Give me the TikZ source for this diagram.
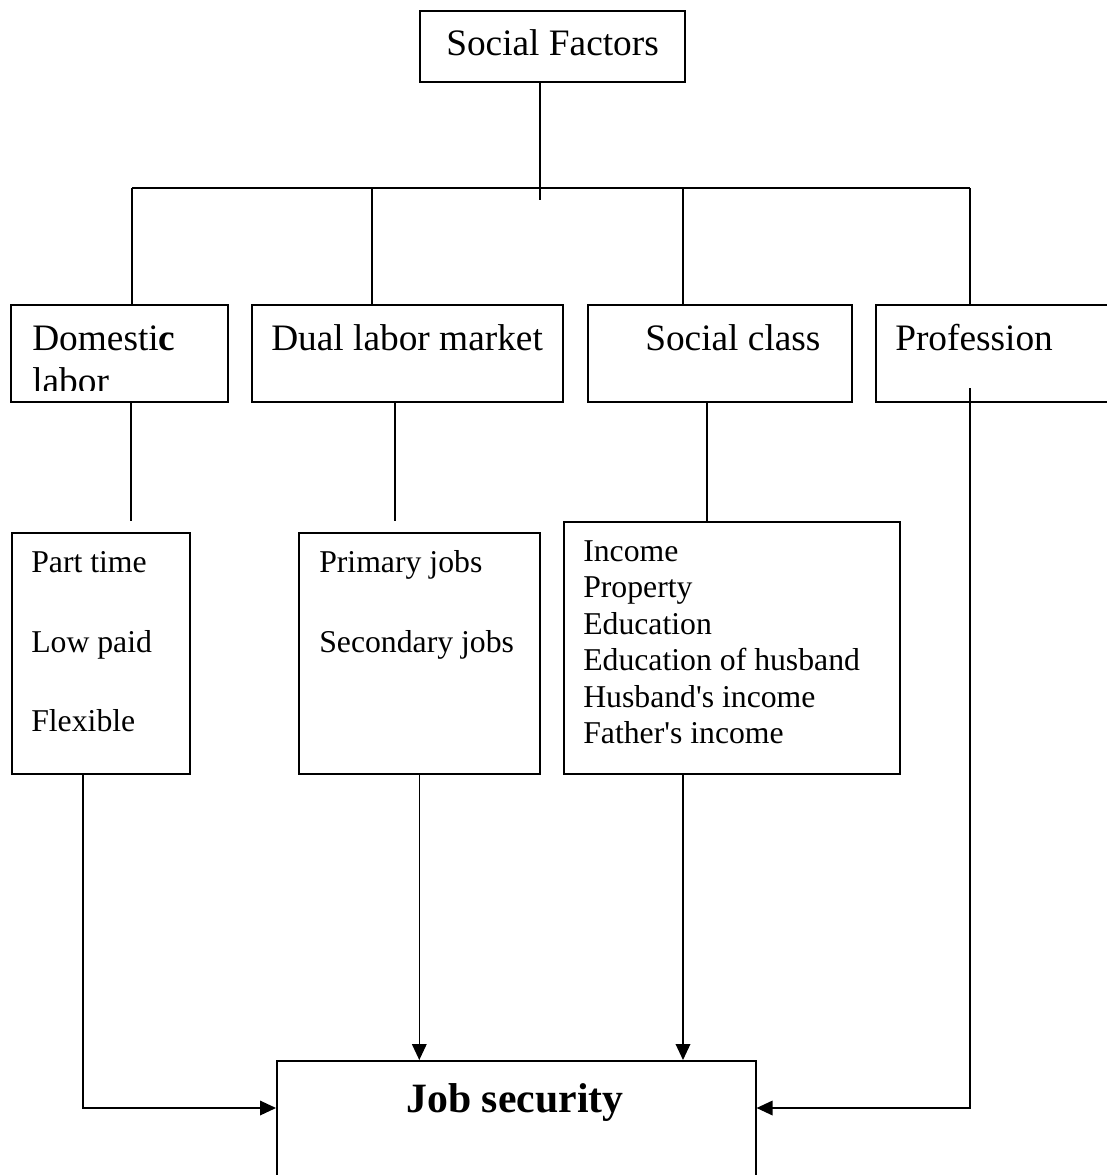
\documentclass[tikz,border=0pt]{standalone}
\usepackage{fontspec}
\setmainfont{Liberation Serif}[Ligatures=TeXOff]
\usetikzlibrary{arrows.meta}

\tikzset{
  box/.style 2 args={draw, line width=1.2pt, anchor=north west, inner sep=0pt,
    minimum width=#1*0.75pt, minimum height=#2*0.75pt},
  link/.style={line width=1pt},
  arr/.style={link, -{Triangle[length=12pt,width=11pt]}},
  head/.style={anchor=base west, inner sep=0pt, font=\fontsize{28}{32}\selectfont},
  item/.style={anchor=base west, inner sep=0pt, font=\fontsize{23.8}{27.4}\selectfont},
}

\begin{document}
\begin{tikzpicture}[x=0.75pt,y=-0.75pt]
       \useasboundingbox (0,0) rectangle (1107,1175);
       \clip (0,0) rectangle (1107,1175);
       % boxes
       \node[box={265}{71}]  (sf)   at (419,10)   {};
       \node[box={217}{97}]  (dom)  at (10,304)   {};
       \node[box={311}{97}]  (dual) at (251,304)  {};
       \node[box={264}{97}]  (cls)  at (587,304)  {};
       \node[box={245}{97}]  (prof) at (875,304)  {};
       \node[box={178}{241}] (part) at (11,532)   {};
       \node[box={241}{241}] (jobs) at (298,532)  {};
       \node[box={336}{252}] (inc)  at (563,521)  {};
       \node[box={479}{130}] (js)   at (276,1060) {};
       % texts
       \node[head] (sft) at (446,55) {Social Factors};
       \node[head] (domt) at (32,350) {Domesti\textbf{c}};
       \begin{scope}
         \clip (10,304) rectangle (227,390);
         \node[head] (domu) at (32,393) {labor};
       \end{scope}
       \node[head] (dualt) at (271,350) {Dual labor market};
       \node[head] (clst)  at (645,350) {Social class};
       \node[head] (proft) at (895,350) {Profession};
       \node[item] (pt1) at (31,572) {Part time};
       \node[item] (pt2) at (31,652) {Low paid};
       \node[item] (pt3) at (31,731) {Flexible};
       \node[item] (jb1) at (319,572) {Primary jobs};
       \node[item] (jb2) at (319,652) {Secondary jobs};
       \foreach \t [count=\i from 0] in {Income, Property, Education,
           Education of husband, Husband's income, Father's income}
         \node[item] (inc\i) at (583,561+36.5*\i) {\t};
       \node[anchor=base, inner sep=0pt, font=\fontsize{31.3}{36}\selectfont\bfseries]
         (jst) at (515,1112) {Job security};
       % connectors
       \coordinate (c0) at (540,200);
       \coordinate (d1) at (132,188);
       \coordinate (d2) at (372,188);
       \coordinate (d3) at (683,188);
       \coordinate (d4) at (970,188);
       \coordinate (e1) at (131,521);
       \coordinate (e2) at (395,521);
       \coordinate (e3) at (707,521);
       \coordinate (p1) at (970,388);
       \coordinate (l1) at (83,1108);
       \coordinate (r1) at (683,0);
       \draw[link] (c0 |- sf.south) -- (c0);
       \draw[link] (d1) -- (d4);
       \draw[link] (d1) -- (d1 |- dom.north);
       \draw[link] (d2) -- (d2 |- dual.north);
       \draw[link] (d3) -- (d3 |- cls.north);
       \draw[link] (d4) -- (d4 |- prof.north);
       \draw[link] (e1 |- dom.south) -- (e1);
       \draw[link] (e2 |- dual.south) -- (e2);
       \draw[link] (e3 |- cls.south) -- (e3);
       \draw[arr] (l1 |- part.south) -- (l1) -- (l1 -| js.west);
       \draw[arr] (jobs.south) -- (jobs.south |- js.north);
       \draw[arr] (r1 |- inc.south) -- (r1 |- js.north);
       \draw[arr] (p1) |- (l1 -| js.east);
      \end{tikzpicture}
\end{document}
